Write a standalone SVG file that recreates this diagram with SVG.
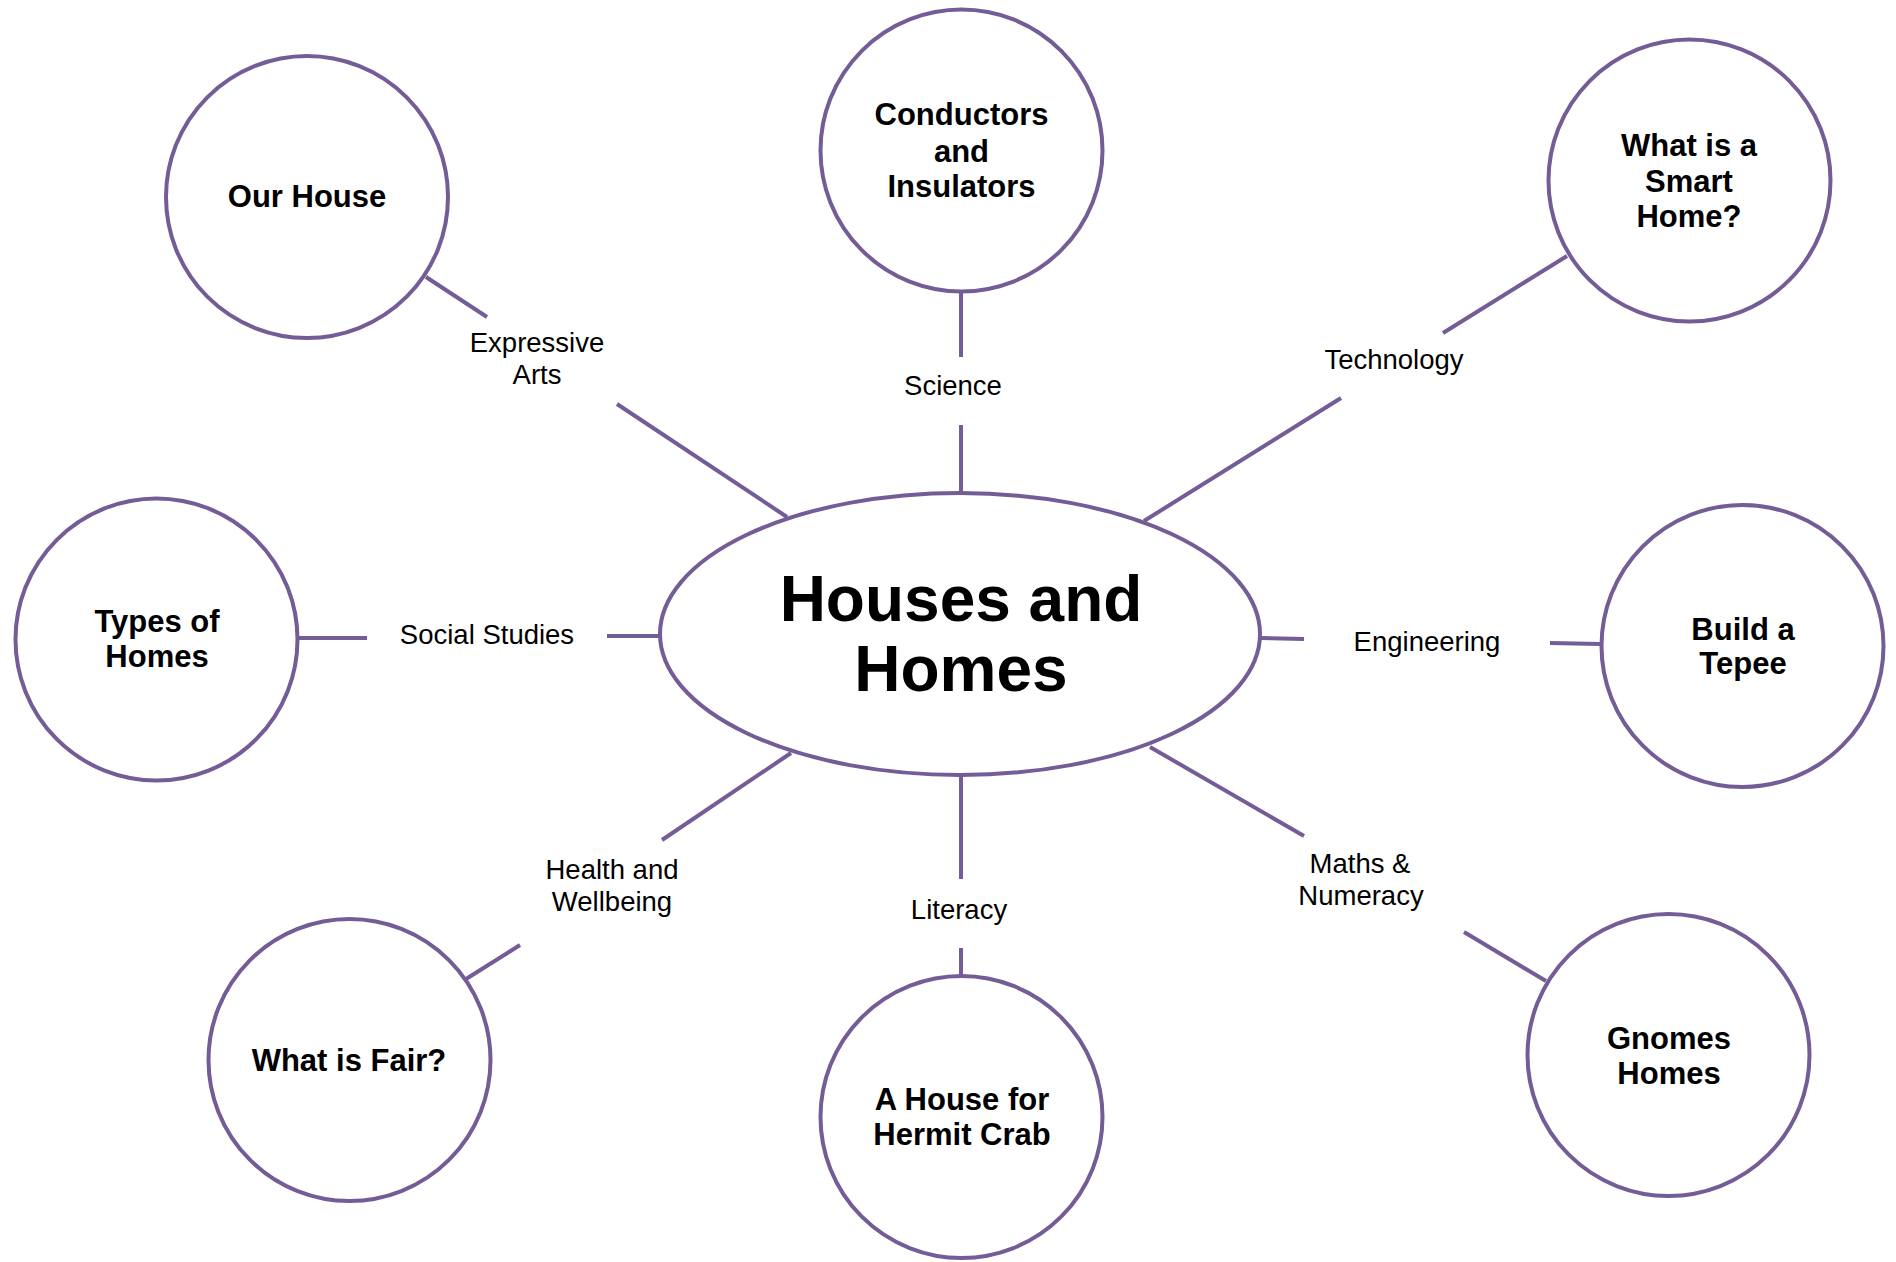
<svg xmlns="http://www.w3.org/2000/svg" width="1896" height="1262" viewBox="0 0 1896 1262">
<style>
.n{fill:#fff;stroke:#745C97;stroke-width:4}
.c line{stroke:#745C97;stroke-width:4;stroke-linecap:butt}
.t{font-family:"Liberation Sans",Arial,sans-serif;font-weight:bold;font-size:31px;fill:#000;text-anchor:middle}
.big{font-size:64px}
.l{font-family:"Liberation Sans",Arial,sans-serif;font-size:27.5px;fill:#000;text-anchor:middle}
</style>
<rect width="1896" height="1262" fill="#fff"/>
<g class="c" id="connectors">
<line x1="426" y1="277" x2="487" y2="317"/>
<line x1="617" y1="404" x2="787" y2="517"/>
<line x1="961" y1="293" x2="961" y2="357"/>
<line x1="961" y1="425" x2="961" y2="492"/>
<line x1="1567" y1="256" x2="1443" y2="333"/>
<line x1="1341" y1="398" x2="1144" y2="521"/>
<line x1="298" y1="638" x2="367" y2="638"/>
<line x1="607" y1="636" x2="659" y2="636"/>
<line x1="1261" y1="638" x2="1304" y2="639"/>
<line x1="1550" y1="643" x2="1600" y2="644"/>
<line x1="791" y1="753" x2="662" y2="840"/>
<line x1="520" y1="945" x2="466" y2="979"/>
<line x1="961" y1="776" x2="961" y2="879"/>
<line x1="961" y1="948" x2="961" y2="976"/>
<line x1="1150" y1="747" x2="1304" y2="836"/>
<line x1="1464" y1="932" x2="1546" y2="981"/>
</g>
<g id="labels">
<text class="l" x="537" y="352">Expressive</text>
<text class="l" x="537" y="384">Arts</text>
<text class="l" x="953" y="395">Science</text>
<text class="l" x="1394" y="369">Technology</text>
<text class="l" x="487" y="644">Social Studies</text>
<text class="l" x="1427" y="651">Engineering</text>
<text class="l" x="612" y="879">Health and</text>
<text class="l" x="612" y="911">Wellbeing</text>
<text class="l" x="959" y="919">Literacy</text>
<text class="l" x="1360" y="873">Maths &amp;</text>
<text class="l" x="1361" y="905">Numeracy</text>
</g>
<g id="center">
<ellipse class="n" cx="960" cy="634" rx="300" ry="141"/>
<text class="t big" x="961" y="621">Houses and</text>
<text class="t big" x="961" y="691">Homes</text>
</g>
<g id="our-house">
<circle class="n" cx="307" cy="197" r="141"/>
<text class="t" x="307" y="207">Our House</text>
</g>
<g id="conductors">
<circle class="n" cx="961.5" cy="150.5" r="141"/>
<text class="t" x="961.5" y="125">Conductors</text>
<text class="t" x="961.5" y="162">and</text>
<text class="t" x="961.5" y="197">Insulators</text>
</g>
<g id="smart-home">
<circle class="n" cx="1689.5" cy="180.5" r="141"/>
<text class="t" x="1689" y="156">What is a</text>
<text class="t" x="1689" y="192">Smart</text>
<text class="t" x="1689" y="227">Home?</text>
</g>
<g id="types-of-homes">
<circle class="n" cx="156.5" cy="639.5" r="141"/>
<text class="t" x="157" y="632">Types of</text>
<text class="t" x="157" y="667">Homes</text>
</g>
<g id="build-tepee">
<circle class="n" cx="1742.5" cy="646" r="141"/>
<text class="t" x="1743" y="640">Build a</text>
<text class="t" x="1743" y="674">Tepee</text>
</g>
<g id="what-is-fair">
<circle class="n" cx="349.5" cy="1060" r="141"/>
<text class="t" x="349" y="1071">What is Fair?</text>
</g>
<g id="hermit-crab">
<circle class="n" cx="961.5" cy="1117" r="141"/>
<text class="t" x="962" y="1110">A House for</text>
<text class="t" x="962" y="1145">Hermit Crab</text>
</g>
<g id="gnomes-homes">
<circle class="n" cx="1668.5" cy="1055" r="141"/>
<text class="t" x="1669" y="1049">Gnomes</text>
<text class="t" x="1669" y="1084">Homes</text>
</g>
</svg>
